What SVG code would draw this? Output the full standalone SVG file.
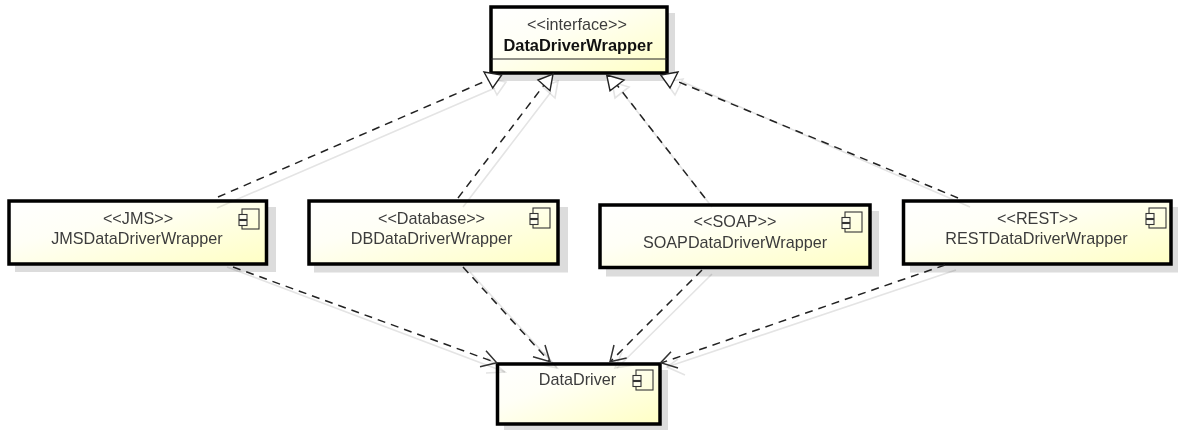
<svg xmlns="http://www.w3.org/2000/svg" width="1178" height="430" viewBox="0 0 1178 430">
<defs>
<linearGradient id="g" x1="0" y1="0" x2="1" y2="1"><stop offset="0" stop-color="#ffffff"/><stop offset="0.35" stop-color="#fffff6"/><stop offset="1" stop-color="#ffffc4"/></linearGradient>
<g id="ic"><rect x="3" y="0" width="17" height="20" class="i"/><rect x="0" y="5.500" width="8" height="5" class="t"/><rect x="0" y="11.500" width="8" height="5" class="t"/></g>
</defs>
<style>
text{font-family:"Liberation Sans",Arial,sans-serif;font-size:16.2px;fill:#3c3c3c;text-anchor:middle}
.n{font-size:16.4px;font-weight:bold;fill:#111}
.b{fill:url(#g);stroke:#000;stroke-width:3.5}
.s{fill:#dcdcdc}
.i{fill:none;stroke:#333;stroke-width:1.1}
.t{fill:#fffff0;stroke:#333;stroke-width:1.1}
.d{fill:none;stroke:#222;stroke-width:1.5;stroke-dasharray:8 6}
.h{fill:none;stroke:#e4e4e4;stroke-width:1.6;mix-blend-mode:multiply}
.o{fill:#fff;stroke:#222;stroke-width:1.4}
.a{fill:none;stroke:#333;stroke-width:1.5}
</style>
<g id="DataDriverWrapper"><rect class="s" x="498" y="13" width="177" height="68"/><rect class="b" x="491" y="7" width="176" height="66"/><path d="M491 59H667" stroke="#222" stroke-width="1.2"/><text x="577" y="30">&lt;&lt;interface&gt;&gt;</text><text class="n" x="578" y="51">DataDriverWrapper</text></g>
<g id="JMSDataDriverWrapper"><rect class="s" x="15" y="207" width="261" height="65"/><rect class="b" x="9" y="201" width="257.500" height="63"/><text x="138" y="224">&lt;&lt;JMS&gt;&gt;</text><text x="137" y="243.500">JMSDataDriverWrapper</text><use href="#ic" x="239" y="209"/></g>
<g id="DBDataDriverWrapper"><rect class="s" x="314" y="207" width="254" height="65.500"/><rect class="b" x="309" y="201" width="249" height="63"/><text x="431.500" y="224">&lt;&lt;Database&gt;&gt;</text><text x="431.500" y="243.500">DBDataDriverWrapper</text><use href="#ic" x="530" y="208"/></g>
<g id="SOAPDataDriverWrapper"><rect class="s" x="606" y="211" width="273" height="65.500"/><rect class="b" x="600" y="205" width="270" height="62.500"/><text x="735" y="227">&lt;&lt;SOAP&gt;&gt;</text><text x="735" y="248">SOAPDataDriverWrapper</text><use href="#ic" x="842" y="212"/></g>
<g id="RESTDataDriverWrapper"><rect class="s" x="910" y="207" width="268" height="65.500"/><rect class="b" x="903.500" y="201" width="267.500" height="63"/><text x="1037.500" y="224">&lt;&lt;REST&gt;&gt;</text><text x="1036.500" y="243.500">RESTDataDriverWrapper</text><use href="#ic" x="1146" y="208"/></g>
<g id="DataDriver"><rect class="s" x="504" y="370" width="164" height="60"/><rect class="b" x="497.500" y="364" width="162.500" height="60"/><text x="577.500" y="385">DataDriver</text><use href="#ic" x="633" y="370"/></g>
<g id="connectors">
<path class="h" d="M217 208L495 88M463 207L551 92M712 207L622 92M970 207L683 82M227 267L505 372M470 272L557 368M712 274L617 368M956 270L667 367"/>
<path class="h" d="M489 79L506 82L497 95ZM543 87L558 81L555 98ZM612 82L629 87L615 98ZM666 82L683 79L675 95Z"/>
<path class="h" d="M487 358L505 372L486 373M544 352L557 368L538 364M622 352L615 368L634 365M678 359L667 367L685 375"/>
<path class="d" d="M218 197L488 80M458 198L544 85M705 198L617 85M958 198L674 80"/>
<path class="o" d="M484 72L501.700 75L492.700 88ZM538 80L553 74L550 90.700ZM606.700 75L624 80L610 90.700ZM660.700 75L678 72L670 88Z"/>
<path class="d" d="M233 267L497 363M463 267L550 362M702 270L610 362M945 265L661 363"/>
<path class="a" d="M486 350.700L496.700 362.700L480 366.700M533 356.700L550 361.700L545 345M614 345L610 361.700L626.700 358M671 351.700L660.700 362.700L678 368"/>
</g>
</svg>
